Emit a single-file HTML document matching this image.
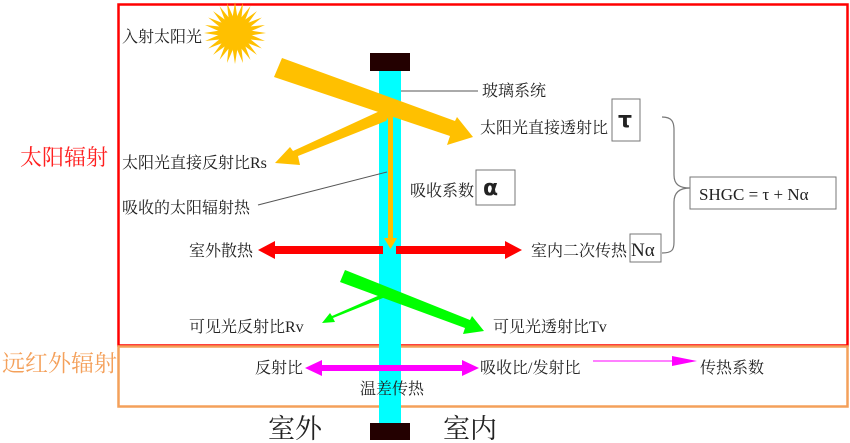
<!DOCTYPE html>
<html><head><meta charset="utf-8"><style>
html,body{margin:0;padding:0;background:#fff;}
svg{display:block;}
text{font-family:"Liberation Serif","Noto Serif CJK SC","Noto Sans CJK SC",serif;fill:#222;}
</style></head><body>
<svg width="850" height="443" viewBox="0 0 850 443" xmlns="http://www.w3.org/2000/svg">
<rect x="118.5" y="4.5" width="729" height="341" fill="none" stroke="#ff0000" stroke-width="2.5"/>
<rect x="118.5" y="346.5" width="729" height="60" fill="none" stroke="#f4a05a" stroke-width="2.5"/>
<rect x="379" y="70" width="22" height="354" fill="#00ffff"/>
<rect x="370" y="53" width="40" height="18" fill="#230000"/>
<rect x="370" y="423" width="40" height="17" fill="#230000"/>
<g transform="translate(235,33)" fill="#ffc000">
<circle r="14"/>
<polygon points="0,-31 3,-12 -3,-12" transform="rotate(0)"/>
<polygon points="0,-31 3,-12 -3,-12" transform="rotate(15)"/>
<polygon points="0,-31 3,-12 -3,-12" transform="rotate(30)"/>
<polygon points="0,-31 3,-12 -3,-12" transform="rotate(45)"/>
<polygon points="0,-31 3,-12 -3,-12" transform="rotate(60)"/>
<polygon points="0,-31 3,-12 -3,-12" transform="rotate(75)"/>
<polygon points="0,-31 3,-12 -3,-12" transform="rotate(90)"/>
<polygon points="0,-31 3,-12 -3,-12" transform="rotate(105)"/>
<polygon points="0,-31 3,-12 -3,-12" transform="rotate(120)"/>
<polygon points="0,-31 3,-12 -3,-12" transform="rotate(135)"/>
<polygon points="0,-31 3,-12 -3,-12" transform="rotate(150)"/>
<polygon points="0,-31 3,-12 -3,-12" transform="rotate(165)"/>
<polygon points="0,-31 3,-12 -3,-12" transform="rotate(180)"/>
<polygon points="0,-31 3,-12 -3,-12" transform="rotate(195)"/>
<polygon points="0,-31 3,-12 -3,-12" transform="rotate(210)"/>
<polygon points="0,-31 3,-12 -3,-12" transform="rotate(225)"/>
<polygon points="0,-31 3,-12 -3,-12" transform="rotate(240)"/>
<polygon points="0,-31 3,-12 -3,-12" transform="rotate(255)"/>
<polygon points="0,-31 3,-12 -3,-12" transform="rotate(270)"/>
<polygon points="0,-31 3,-12 -3,-12" transform="rotate(285)"/>
<polygon points="0,-31 3,-12 -3,-12" transform="rotate(300)"/>
<polygon points="0,-31 3,-12 -3,-12" transform="rotate(315)"/>
<polygon points="0,-31 3,-12 -3,-12" transform="rotate(330)"/>
<polygon points="0,-31 3,-12 -3,-12" transform="rotate(345)"/>
</g>
<polygon fill="#ffc000" points="282,58 455,121 457,117 473,137 447,145 450,136 274,77"/>
<polygon fill="#ffc000" points="392,111 386,121 298,156 300,165 275,163 290,147 293,151 382,110"/>
<rect x="388" y="113" width="5" height="132" fill="#ffc000"/>
<polygon fill="#ffc000" points="384,238 397,238 390.5,249"/>
<line x1="401" y1="91" x2="478" y2="91" stroke="#555" stroke-width="1"/>
<line x1="387" y1="172" x2="258" y2="205" stroke="#555" stroke-width="1"/>
<polygon fill="#ff0000" points="383,246 275,246 275,241 258,250 275,259 275,254 383,254"/>
<polygon fill="#ff0000" points="396,246 505,246 505,241 522,250 505,259 505,254 396,254"/>
<polygon fill="#00ff00" points="345,270 470,320 472,316 484,331 463,334 465,328 340,282"/>
<polygon fill="#00ff00" points="387,292 388,296 333,318 335,322 322,323 330,313 332,316"/>
<polygon fill="#ff00ff" points="305,368 322,360 322,365 462,365 462,360 479,368 462,376 462,371 322,371 322,376"/>
<line x1="593" y1="361" x2="682" y2="361" stroke="#ff00ff" stroke-width="1"/>
<polygon fill="#ff00ff" points="672,356 697,361 672,366"/>
<path d="M662,117 C672,117 674,122 674,130 L674,175 C674,185 680,188 690,188 C680,188 674,192 674,202 L674,242 C674,250 672,253 662,253" fill="none" stroke="#777" stroke-width="1.2"/>
<rect x="612" y="99" width="28" height="42" fill="#fff" stroke="#777"/>
<text x="618" y="127" font-size="22" style="font-family:'DejaVu Sans',sans-serif" font-weight="bold">τ</text>
<rect x="476" y="170" width="39" height="35" fill="#fff" stroke="#777"/>
<text x="483" y="195" font-size="22" style="font-family:'DejaVu Sans',sans-serif" font-weight="bold">α</text>
<rect x="630" y="234" width="31" height="28" fill="#fff" stroke="#777"/>
<text x="631" y="256" font-size="19">Nα</text>
<rect x="690" y="177" width="146" height="32" fill="#fff" stroke="#777"/>
<text x="699" y="200" font-size="17">SHGC = τ + Nα</text>
<text x="122" y="42" font-size="16">入射太阳光</text>
<text x="482" y="96" font-size="16">玻璃系统</text>
<text x="480" y="133" font-size="16">太阳光直接透射比</text>
<text x="410" y="196" font-size="16">吸收系数</text>
<text x="122" y="168" font-size="16">太阳光直接反射比Rs</text>
<text x="122" y="213" font-size="16">吸收的太阳辐射热</text>
<text x="189" y="256" font-size="16">室外散热</text>
<text x="531" y="256" font-size="16">室内二次传热</text>
<text x="189" y="332" font-size="16">可见光反射比Rv</text>
<text x="493" y="332" font-size="16">可见光透射比Tv</text>
<text x="255" y="373" font-size="16">反射比</text>
<text x="480" y="373" font-size="16">吸收比/发射比</text>
<text x="700" y="373" font-size="16">传热系数</text>
<text x="360" y="394" font-size="16">温差传热</text>
<text x="268" y="438" font-size="27">室外</text>
<text x="443" y="438" font-size="27">室内</text>
<text x="20" y="165" font-size="22" style="fill:#ff2020">太阳辐射</text>
<text x="2" y="371" font-size="23" style="fill:#f4a05a">远红外辐射</text>
</svg>
</body></html>
